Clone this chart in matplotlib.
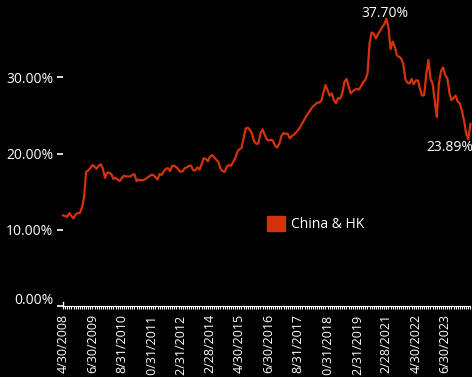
import pandas as pd
import matplotlib
matplotlib.use("Agg")
import matplotlib.pyplot as plt
import matplotlib.transforms as mtransforms
from matplotlib.patches import Patch
from matplotlib.ticker import PercentFormatter

plt.rcParams['font.family'] = ['Open Sans', 'DejaVu Sans']

# monthly weight of China & HK, in percent
china_hk = [
    11.9, 11.8, 11.7, 12.2, 11.8, 11.5, 12.0, 12.2, 12.2, 12.9,
    14.2, 17.6, 17.8, 18.1, 18.5, 18.3, 18.0, 18.4, 18.6, 18.0,
    16.8, 17.5, 17.5, 17.3, 16.7, 16.8, 16.6, 16.4, 16.8, 17.1,
    17.0, 17.0, 17.0, 17.2, 17.3, 16.4, 16.6, 16.5, 16.5, 16.6,
    16.8, 17.0, 17.2, 17.2, 16.9, 16.6, 17.3, 17.2, 17.7, 18.0,
    18.1, 17.7, 18.4, 18.4, 18.2, 17.9, 17.6, 17.7, 18.1, 18.2,
    18.4, 18.4, 17.8, 17.8, 18.2, 17.9, 18.6, 19.4, 19.3, 19.0,
    19.6, 19.8, 19.5, 19.2, 18.9, 18.0, 17.7, 17.6, 18.3, 18.5,
    18.4, 18.9, 19.4, 20.2, 20.6, 20.7, 22.0, 23.3, 23.4, 23.1,
    22.6, 21.6, 21.3, 21.3, 22.6, 23.2, 22.5, 21.9, 21.7, 21.8,
    21.7, 21.0, 20.8, 21.3, 22.3, 22.7, 22.6, 22.6, 22.0, 22.3,
    22.5, 22.8, 23.1, 23.5, 24.0, 24.5, 25.0, 25.4, 25.8, 26.2,
    26.4, 26.7, 26.7, 26.9, 28.0, 29.0, 28.3, 27.6, 27.9, 27.0,
    26.6, 27.3, 27.2, 27.9, 29.4, 29.8, 28.8, 27.9, 28.2, 28.4,
    28.5, 28.4, 28.9, 29.4, 29.7, 30.5, 34.5, 35.9, 35.7, 35.1,
    35.7, 36.1, 36.6, 37.0, 37.70, 36.5, 33.7, 34.7, 34.0, 32.9,
    32.7, 32.5, 31.8, 29.8, 29.3, 29.2, 29.8, 29.1, 29.6, 29.6,
    28.5, 27.6, 27.7, 30.5, 32.3, 29.8, 29.2, 27.0, 24.8, 29.2,
    30.8, 31.3, 30.3, 29.9, 28.0, 27.0, 27.3, 27.6, 26.8, 26.6,
    25.6, 24.3, 22.6, 21.9, 23.89,
]
dates = pd.date_range('2008-04-30', periods=len(china_hk), freq='ME')
date_labels = [f"{d.month}/{d.day}/{d.year}" for d in dates]
label_step = 14

red = '#D4330A'
n = len(china_hk)
x = list(range(n))
vals = [v / 100 for v in china_hk]

fig = plt.figure(figsize=(4.72, 3.77), dpi=100, facecolor='black')
ax = fig.add_axes([63 / 472, 1 - 306 / 377, (470.4 - 63) / 472, 304.8 / 377])
ax.set_facecolor('black')

ax.plot(x, vals, color=red, lw=1.6, solid_joinstyle='round', clip_on=False)

ax.set_xlim(0, n - 1)
ax.set_ylim(0, 0.40)
ax.set_yticks([0, 0.1, 0.2, 0.3])
ax.yaxis.set_major_formatter(PercentFormatter(1.0, decimals=2))

ax.set_xticks(x)
ax.set_xticklabels([lab if i % label_step == 0 else '' for i, lab in enumerate(date_labels)],
                   rotation=90, fontsize=9, color='white')
shift = mtransforms.ScaledTranslation(8 / 100, 0, fig.dpi_scale_trans)
for lab in ax.get_xticklabels():
    lab.set_transform(lab.get_transform() + shift)

ax.tick_params(axis='x', colors='white', length=2.5, width=0.8, pad=3)
ax.tick_params(axis='y', colors='white', labelsize=10, length=4.5, width=1.2, pad=2.5)
# lift the 0% label clear of the axis line
lift = mtransforms.ScaledTranslation(0, 8 / 100, fig.dpi_scale_trans)
zero_lab = ax.get_yticklabels()[0]
zero_lab.set_transform(zero_lab.get_transform() + lift)

for side in ['top', 'right', 'left']:
    ax.spines[side].set_visible(False)
ax.spines['bottom'].set_color('white')
ax.spines['bottom'].set_linewidth(0.8)
ax.plot([0, 0], [0, 0.005], color='white', lw=1, clip_on=False)

# max and latest values
imax = china_hk.index(max(china_hk))
ax.annotate(f"{china_hk[imax]:.2f}%", (imax, vals[imax]), xytext=(-1, 2),
            textcoords='offset pixels', ha='center', va='baseline',
            color='white', fontsize=10, annotation_clip=False)
ax.annotate(f"{china_hk[-1]:.2f}%", (n - 1, vals[-1]), xytext=(3, -27),
            textcoords='offset pixels', ha='right', va='baseline',
            color='white', fontsize=10, annotation_clip=False)

leg = ax.legend(handles=[Patch(color=red, label='China & HK')],
                loc='center left', bbox_to_anchor=(267 / 472, 1 - 224 / 377),
                bbox_transform=fig.transFigure, frameon=False, fontsize=10,
                handlelength=1.3, handleheight=1.3, handletextpad=0.45,
                borderpad=0, borderaxespad=0)
for t in leg.get_texts():
    t.set_color('white')

fig.savefig('out.png', dpi=100, facecolor='black')
